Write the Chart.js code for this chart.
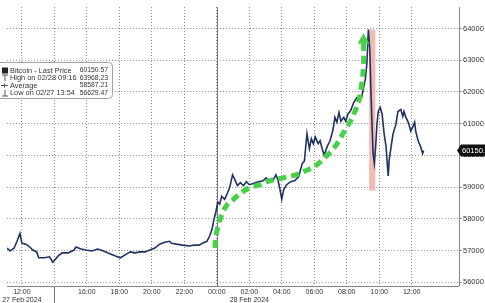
<!DOCTYPE html>
<html>
<head>
<meta charset="utf-8">
<script src="https://cdn.jsdelivr.net/npm/chart.js@4.4.1/dist/chart.umd.min.js"></script>
<style>
  html, body { margin: 0; padding: 0; background: #fff; }
</style>
</head>
<body>
<canvas id="btcChart" width="485" height="303"></canvas>
<script>
// x values are hours since 27 Feb 2024 00:00
const hours = [11.09, 11.27, 11.52, 11.70, 11.88, 12.00, 12.24, 12.42, 12.67, 12.91, 13.03, 13.39, 13.70, 13.90,
  14.24, 14.48, 14.85, 15.21, 15.33, 15.64, 15.94, 16.30, 16.67, 17.03, 17.45, 17.76, 18.06, 18.36, 18.67, 18.97,
  19.27, 19.58, 19.88, 20.18, 20.48, 20.79, 21.09, 21.21, 21.52, 21.88, 22.30, 22.61, 22.91, 23.21, 23.39, 23.58,
  23.70, 23.82, 23.94, 24.06, 24.18, 24.30, 24.48, 24.67, 24.79, 24.97, 25.09, 25.27, 25.45, 25.64, 25.82, 26.00,
  26.24, 26.55, 26.85, 27.03, 27.21, 27.45, 27.64, 27.76, 27.88, 28.00, 28.12, 28.30, 28.55, 28.79, 29.03, 29.15,
  29.27, 29.39, 29.55, 29.70, 29.82, 29.94, 30.06, 30.24, 30.36, 30.48, 30.61, 30.79, 30.97, 31.15, 31.27, 31.39,
  31.52, 31.64, 31.82, 31.94, 32.06, 32.24, 32.42, 32.61, 32.79, 32.91, 33.03, 33.15, 33.24, 33.33, 33.42, 33.48,
  33.55, 33.62, 33.70, 33.78, 33.86, 33.94, 34.06, 34.18, 34.24, 34.30, 34.42, 34.48, 34.55, 34.61, 34.73, 34.85,
  35.03, 35.15, 35.33, 35.45, 35.52, 35.64, 35.76, 35.82, 35.94, 36.06, 36.18, 36.24, 36.36, 36.42, 36.55, 36.67, 36.73];
const prices = [57080, 56985, 57077, 57290, 57540, 57230, 57200, 57140, 57015, 56955, 56770, 56770, 56800, 56630,
  56830, 56925, 56925, 57015, 57110, 57045, 57015, 56985, 57045, 56985, 56890, 56830, 56770, 56860, 56955, 56925,
  56955, 56955, 57015, 57075, 57200, 57260, 57290, 57230, 57200, 57170, 57140, 57170, 57170, 57250, 57290, 57480,
  57660, 57970, 58215, 58525, 58460, 58710, 58615, 58830, 58985, 59385, 59260, 59045, 59140, 59045, 59170, 59075,
  59110, 59170, 59200, 59290, 59200, 59200, 59385, 59230, 58955, 58615, 58925, 59075, 59170, 59200, 59325, 59540,
  59755, 59815, 60680, 60215, 60525, 60370, 60585, 60370, 60460, 60215, 60000, 60275, 60460, 60800, 61200, 61045,
  61355, 61075, 61200, 61075, 61290, 61415, 61660, 61815, 61690, 61815, 62125, 62430, 62900, 63968, 63350, 62150,
  61080, 60060, 59750, 60280, 60985, 61385, 61510, 61290, 60985, 60680, 60275, 59845, 59355, 59845, 60275, 60680,
  60985, 61385, 61445, 61230, 61385, 61200, 61075, 60985, 60770, 60890, 61045, 60770, 60525, 60430, 60275, 60060, 60150];

// green dashed trend arrow
const arrowHours = [23.88, 24.00, 24.30, 24.61, 25.03, 25.52, 26.06, 26.67, 27.27, 28.06, 28.85, 29.45, 30.06,
  30.61, 31.09, 31.52, 31.82, 32.12, 32.42, 32.73, 32.91, 33.03, 33.03];
const arrowPrices = [57080, 57600, 58120, 58430, 58615, 58830, 58985, 59075, 59200, 59290, 59385, 59510, 59660,
  59910, 60155, 60460, 60740, 60985, 61290, 61690, 62215, 62830, 63630];

// highlighted crash window
const crashFrom = 33.38, crashTo = 33.76, crashLow = 58890, crashHigh = 63970;

const xTicks = [12, 14, 16, 18, 20, 22, 24, 26, 28, 30, 32, 34, 36];
const xTickLabels = [['12:00', '27 Feb 2024'], '', '16:00', '18:00', '20:00', '22:00', '00:00', ['02:00', '28 Feb 2024'],
  '04:00', '06:00', '08:00', '10:00', '12:00'];
const yTicks = [56000, 57000, 58000, 59000, 60000, 61000, 62000, 63000, 64000];

const legendLabels = ['Bitcoin - Last Price', 'High on 02/28 09:16', 'Average', 'Low on 02/27 13:54'];
const legendValues = ['60150.57', '63968.23', '58587.21', '56629.47'];
const lastTag = '60150.';

const FONT = '"Liberation Sans", Arial, sans-serif';

const extras = {
  id: 'extras',
  beforeDatasetsDraw(chart) {
    const {ctx, chartArea, scales: {x, y}} = chart;
    ctx.save();
    // crash box
    const x0 = x.getPixelForValue(crashFrom), x1 = x.getPixelForValue(crashTo);
    const y0 = y.getPixelForValue(crashHigh), y1 = y.getPixelForValue(crashLow);
    ctx.fillStyle = 'rgba(238,150,140,0.65)';
    ctx.fillRect(x0, y0, x1 - x0, y1 - y0);
    // midnight line
    ctx.strokeStyle = '#777';
    ctx.lineWidth = 1;
    const mx = Math.round(x.getPixelForValue(24)) + 0.5;
    ctx.beginPath();
    ctx.moveTo(mx, chartArea.top);
    ctx.lineTo(mx, chartArea.bottom);
    ctx.stroke();
    // date separator below axis
    const sx = Math.round(x.getPixelForValue(14)) + 0.5;
    ctx.beginPath();
    ctx.moveTo(sx, chartArea.bottom);
    ctx.lineTo(sx, chart.height);
    ctx.stroke();
    // solid axis lines
    ctx.strokeStyle = '#888';
    ctx.beginPath();
    ctx.moveTo(chartArea.left, chartArea.bottom + 0.5);
    ctx.lineTo(chartArea.right, chartArea.bottom + 0.5);
    ctx.moveTo(chartArea.right + 0.5, chartArea.top);
    ctx.lineTo(chartArea.right + 0.5, chartArea.bottom);
    ctx.stroke();
    ctx.restore();
  },
  afterDraw(chart) {
    const {ctx, scales: {y}} = chart;
    ctx.save();
    // legend box
    ctx.fillStyle = '#fff';
    ctx.strokeStyle = '#a0a0a0';
    ctx.lineWidth = 1;
    ctx.beginPath();
    ctx.roundRect(-4.5, 62.5, 117, 36, 4);
    ctx.fill();
    ctx.stroke();
    ctx.textBaseline = 'middle';
    const rows = [70.5, 78, 85.5, 93];
    for (let i = 0; i < legendLabels.length; i++) {
      const ry = rows[i];
      ctx.fillStyle = '#222';
      ctx.strokeStyle = '#555';
      if (i === 0) {
        ctx.fillRect(2, ry - 3, 6, 6);
      } else if (i === 1) {
        ctx.beginPath();
        ctx.moveTo(2, ry - 3); ctx.lineTo(8, ry - 3);
        ctx.moveTo(5, ry - 3); ctx.lineTo(5, ry + 3);
        ctx.stroke();
      } else if (i === 2) {
        ctx.beginPath();
        ctx.moveTo(1, ry); ctx.lineTo(8, ry);
        ctx.moveTo(4.5, ry - 2); ctx.lineTo(4.5, ry + 2);
        ctx.stroke();
      } else {
        ctx.beginPath();
        ctx.moveTo(5, ry - 3); ctx.lineTo(5, ry + 3);
        ctx.moveTo(2, ry + 3); ctx.lineTo(8, ry + 3);
        ctx.stroke();
      }
      ctx.fillStyle = '#333';
      ctx.textAlign = 'left';
      ctx.font = '7.4px ' + FONT;
      ctx.fillText(legendLabels[i], 10, ry);
      ctx.textAlign = 'right';
      ctx.font = '6.8px ' + FONT;
      ctx.fillText(legendValues[i], 108, ry);
    }
    // last price tag
    const ty = y.getPixelForValue(prices[prices.length - 1]);
    ctx.fillStyle = '#111';
    ctx.beginPath();
    ctx.moveTo(457, ty);
    ctx.lineTo(461, ty - 6);
    ctx.lineTo(487, ty - 6);
    ctx.lineTo(487, ty + 6);
    ctx.lineTo(461, ty + 6);
    ctx.closePath();
    ctx.fill();
    ctx.fillStyle = '#fff';
    ctx.textAlign = 'left';
    ctx.font = '7.5px ' + FONT;
    ctx.fillText(lastTag, 462, ty + 0.5);
    ctx.restore();
  }
};

const ctx = document.getElementById('btcChart').getContext('2d');
const btcChart = new Chart(ctx, {
  type: 'line',
  data: {
    datasets: [{
      label: 'trend',
      data: arrowHours.map((h, i) => ({x: h, y: arrowPrices[i]})),
      borderColor: '#46d246',
      backgroundColor: '#46d246',
      borderWidth: 5,
      borderDash: [8, 5],
      tension: 0.35,
      pointStyle: 'triangle',
      pointRadius: c => c.dataIndex === arrowHours.length - 1 ? 7 : 0,
      pointBorderWidth: 0
    }, {
      label: 'Bitcoin - Last Price',
      data: hours.map((h, i) => ({x: h, y: prices[i]})),
      borderColor: '#1f3262',
      borderWidth: 1.6,
      pointRadius: 0,
      tension: 0
    }]
  },
  options: {
    responsive: false,
    animation: false,
    layout: {padding: 0},
    plugins: {legend: {display: false}, tooltip: {enabled: false}},
    scales: {
      x: {
        type: 'linear',
        min: 11.09,
        max: 38.91,
        afterBuildTicks: s => { s.ticks = xTicks.map(v => ({value: v})); },
        afterFit: s => { s.height = 17; },
        grid: {color: '#8f8f8f', drawTicks: false},
        border: {display: false, dash: [1, 2]},
        ticks: {
          autoSkip: false,
          maxRotation: 0,
          padding: 2,
          color: '#333',
          font: {family: FONT, size: 7, lineHeight: 1.15},
          callback: (v, i) => xTickLabels[i]
        }
      },
      y: {
        position: 'right',
        min: 55880,
        max: 64680,
        afterBuildTicks: s => { s.ticks = yTicks.map(v => ({value: v})); },
        afterFit: s => { s.width = 26; },
        grid: {color: '#8f8f8f', tickLength: 3},
        border: {display: false, dash: [1, 2]},
        ticks: {
          padding: 1,
          color: '#333',
          font: {family: FONT, size: 7.5},
          callback: v => String(v)
        }
      }
    }
  },
  plugins: [extras]
});
</script>
</body>
</html>
